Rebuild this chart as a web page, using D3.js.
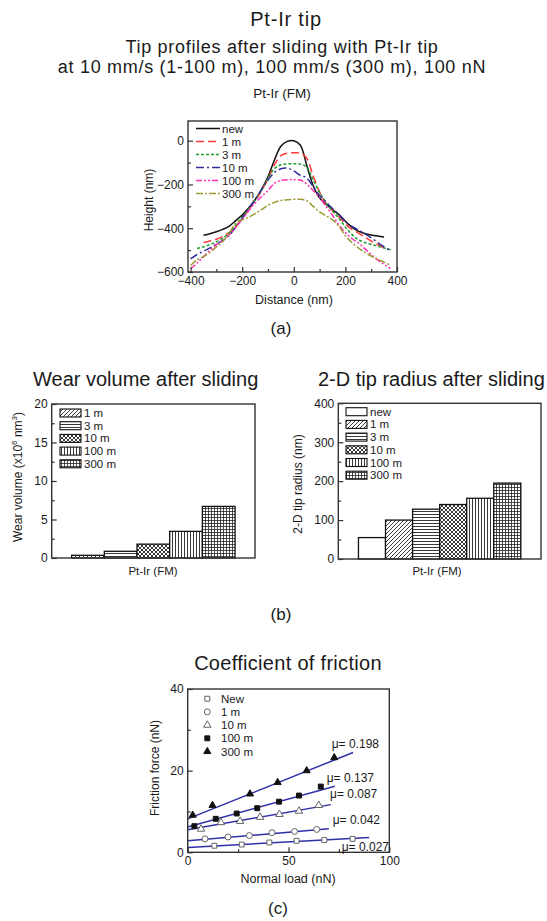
<!DOCTYPE html>
<html><head><meta charset="utf-8">
<script src="https://cdn.jsdelivr.net/npm/d3@7"></script>
<style>
html,body{margin:0;padding:0;background:#fff;}
svg{display:block;font-family:"Liberation Sans",Arial,sans-serif;}
</style></head>
<body><svg id="c" width="547" height="921"></svg>
<script>
// ---------- DATA ----------
// (a) tip profiles
const profileDistance = [-400,-375,-350,-325,-300,-275,-250,-225,-200,-175,-150,-125,-100,-75,-50,-25,0,25,50,75,100,125,150,175,200,225,250,275,300,325,350,375,400];
const profileNames = ["new","1 m","3 m","10 m","100 m","300 m"];
const hNew  = [null,null,-432,-425,-416,-405,-390,-365,-340,-308,-270,-222,-165,-88,-25,-3,0,-20,-112,-205,-262,-290,-315,-338,-368,-395,-413,-424,-431,-436,-440,null,null];
const h1m   = [null,null,-465,-458,-450,-438,-420,-395,-355,-315,-275,-228,-175,-110,-68,-57,-55,-57,-80,-160,-235,-285,-320,-347,-380,-405,-422,-440,-459,-475,-490,null,null];
const h3m   = [null,-493,-485,-475,-462,-445,-420,-385,-350,-312,-270,-225,-172,-128,-110,-106,-105,-107,-120,-180,-235,-285,-320,-355,-395,-428,-452,-465,-474,-482,-490,-498,null];
const h10m  = [-540,-520,-505,-490,-472,-455,-432,-395,-355,-312,-270,-225,-180,-145,-128,-125,-138,-158,-170,-210,-250,-280,-310,-338,-370,-392,-407,-425,-444,-465,-485,-505,null];
const h100m = [-585,-560,-530,-500,-475,-455,-430,-395,-360,-320,-285,-255,-228,-195,-182,-178,-178,-180,-198,-228,-258,-300,-340,-385,-420,-447,-467,-493,-520,-545,-565,-585,null];
const h300m = [-570,-545,-530,-510,-485,-460,-422,-378,-362,-350,-333,-315,-295,-282,-273,-270,-268,-268,-275,-300,-325,-343,-362,-392,-435,-465,-490,-510,-527,-542,-555,-570,null];
const profileHeights = [hNew,h1m,h3m,h10m,h100m,h300m];
const profileXTicks = [-400,-200,0,200,400];
const profileYTicks = [-600,-400,-200,0];

// (b) wear volume and tip radius
const wearCats = ["1 m","3 m","10 m","100 m","300 m"];
const wearValues = [0.35,0.87,1.8,3.46,6.7];
const wearYTicks = [0,5,10,15,20];
const radiusCats = ["new","1 m","3 m","10 m","100 m","300 m"];
const radiusValues = [55,100,128,140,156,195];
const radiusYTicks = [0,100,200,300,400];

// (c) friction
const fricNames = ["New","1 m","10 m","100 m","300 m"];
const loadNew  = [13.2,26.8,40.5,54,67.8,81.8];
const fricNew  = [1.6,1.9,2.4,2.8,3.0,3.3];
const load1m   = [8.6,20,30.6,41.8,53,64];
const fric1m   = [3.3,3.75,4.1,4.8,5.1,5.6];
const load10m  = [6.6,16.5,26,35.9,45.5,55.2,65];
const fric10m  = [5.7,7.3,7.6,8.6,9.3,10.1,11.5];
const load100m = [3.3,13.9,24.3,34.5,45.3,55.2,66];
const fric100m = [6.4,8.2,9.5,10.8,12.4,13.9,16.1];
const load300m = [2.5,12.3,30.9,44.6,59,72.7];
const fric300m = [9.1,11.5,14.3,17.1,20,23.2];
const fricLoads = [loadNew,load1m,load10m,load100m,load300m];
const fricForces = [fricNew,fric1m,fric10m,fric100m,fric300m];
const muValues = [0.027,0.042,0.087,0.137,0.198];
const fitIntercepts = [1.2,2.8,5.5,6.2,8.2];
const fitEnds = [90,70,71,73,82];
const muLabels = ["\u03bc= 0.027","\u03bc= 0.042","\u03bc= 0.087","\u03bc= 0.137","\u03bc= 0.198"];
const fricXTicks = [0,50,100];
const fricYTicks = [0,20,40];

// ---------- DRAW ----------
const svg = d3.select("#c");
const FONT = "#1a1a1a";
function txt(x,y,s,size,anchor,rot,ls){
  const t = svg.append("text").attr("x",x).attr("y",y).attr("font-size",size)
    .attr("fill",FONT).attr("text-anchor",anchor||"middle").text(s);
  if(ls) t.attr("letter-spacing",ls);
  if(rot) t.attr("transform",`rotate(-90,${x},${y})`);
  return t;
}
function frame(x,y){
  svg.append("rect").attr("x",x.range()[0]).attr("y",y.range()[1])
    .attr("width",x.range()[1]-x.range()[0]).attr("height",y.range()[0]-y.range()[1])
    .attr("fill","none").attr("stroke","#333").attr("stroke-width",1.4);
}
function yAxis(x,y,major,minor,fs){
  const g = svg.append("g").attr("transform",`translate(${x.range()[0]},0)`)
    .call(d3.axisLeft(y).tickValues(major).tickSizeInner(-5).tickSizeOuter(0).tickPadding(4));
  g.select(".domain").remove();
  g.selectAll("text").attr("font-size",fs).attr("fill",FONT).attr("font-family",null);
  g.selectAll("line").attr("stroke","#333").attr("stroke-width",1.2);
  if(minor){
    const m = svg.append("g").attr("transform",`translate(${x.range()[0]},0)`)
      .call(d3.axisLeft(y).tickValues(minor).tickSizeInner(-3).tickSizeOuter(0).tickFormat(""));
    m.select(".domain").remove();
    m.selectAll("line").attr("stroke","#333").attr("stroke-width",1.2);
  }
}
function xAxis(x,y,major,minor,fs){
  const g = svg.append("g").attr("transform",`translate(0,${y.range()[0]})`)
    .call(d3.axisBottom(x).tickValues(major).tickSizeInner(-5).tickSizeOuter(0).tickPadding(4));
  g.select(".domain").remove();
  g.selectAll("text").attr("font-size",fs).attr("fill",FONT).attr("font-family",null);
  g.selectAll("line").attr("stroke","#333").attr("stroke-width",1.2);
  if(minor){
    const m = svg.append("g").attr("transform",`translate(0,${y.range()[0]})`)
      .call(d3.axisBottom(x).tickValues(minor).tickSizeInner(-3).tickSizeOuter(0).tickFormat(""));
    m.select(".domain").remove();
    m.selectAll("line").attr("stroke","#333").attr("stroke-width",1.2);
  }
}

// Titles
txt(286,25.5,"Pt-Ir tip",20,"middle",false,0.8);
txt(282,52.5,"Tip profiles after sliding with Pt-Ir tip",18,"middle",false,0.7);
txt(272,72.5,"at 10 mm/s (1-100 m), 100 mm/s (300 m), 100 nN",18,"middle",false,0.7);
txt(282,98,"Pt-Ir (FM)",13.5);

// ---- (a) ----
const xa = d3.scaleLinear().domain([-410,400]).range([188,397]);
const ya = d3.scaleLinear().domain([-600,90]).range([272,121]);
const profColors = ["#111","#ff3a3a","#1f9c2a","#2e2e9e","#ff2fb4","#9d9a34"];
const profDash = [null,"8,4","3,2","8,3,2,3","6,2,2,2,2,2","7,2,2,2"];
svg.append("defs").append("clipPath").attr("id","clipA").append("rect")
  .attr("x",188).attr("y",121).attr("width",209).attr("height",151);
const lineA = d3.line().defined(d=>d[1]!==null).x(d=>xa(d[0])).y(d=>ya(d[1])).curve(d3.curveCatmullRom);
profileHeights.forEach((hs,i)=>{
  svg.append("path").attr("clip-path","url(#clipA)")
    .attr("d",lineA(profileDistance.map((d,j)=>[d,hs[j]])))
    .attr("fill","none").attr("stroke",profColors[i]).attr("stroke-width",1.5)
    .attr("stroke-dasharray",profDash[i]);
});
frame(xa,ya);
yAxis(xa,ya,profileYTicks,[-500,-300,-100],12);
xAxis(xa,ya,profileXTicks,[-300,-100,100,300],12);
// legend (a)
profileNames.forEach((n,i)=>{
  const yy = 128.5 + i*13;
  svg.append("line").attr("x1",196).attr("x2",220).attr("y1",yy).attr("y2",yy)
    .attr("stroke",profColors[i]).attr("stroke-width",1.5).attr("stroke-dasharray",profDash[i]);
  txt(222,yy+4,n,11.5,"start");
});
txt(153,200,"Height (nm)",12,"middle",true);
txt(294,304,"Distance (nm)",12.5);
txt(281,334,"(a)",17);

// ---- patterns ----
const defs = svg.select("defs");
function pat(id,w,h,draw){
  const p = defs.append("pattern").attr("id",id).attr("patternUnits","userSpaceOnUse").attr("width",w).attr("height",h);
  p.append("rect").attr("width",w).attr("height",h).attr("fill","#fff");
  draw(p);
}
pat("pDiag",4,4,p=>p.append("path").attr("d","M-1,1 L1,-1 M0,4 L4,0 M3,5 L5,3").attr("stroke","#222").attr("stroke-width",0.9));
pat("pHoriz",3,3,p=>p.append("path").attr("d","M0,1.5 L3,1.5").attr("stroke","#222").attr("stroke-width",0.9));
pat("pCross",4,4,p=>p.append("path").attr("d","M-1,1 L1,-1 M0,4 L4,0 M3,5 L5,3 M-1,3 L1,5 M0,0 L4,4 M3,-1 L5,1").attr("stroke","#222").attr("stroke-width",0.9));
pat("pVert",3,3,p=>p.append("path").attr("d","M1.5,0 L1.5,3").attr("stroke","#222").attr("stroke-width",0.9));
pat("pGrid",3,3,p=>p.append("path").attr("d","M1.5,0 L1.5,3 M0,1.5 L3,1.5").attr("stroke","#222").attr("stroke-width",0.8));
const fillMap = {"new":"#fff","1 m":"url(#pDiag)","3 m":"url(#pHoriz)","10 m":"url(#pCross)","100 m":"url(#pVert)","300 m":"url(#pGrid)"};

function barChart(cats,vals,x0,x1,yTop,yBot,dom,major,minor,pad,legX,legY,title,titleX,xlabX){
  const x = d3.scaleBand().domain(cats).range([x0,x1]).paddingInner(0).paddingOuter(pad);
  const y = d3.scaleLinear().domain(dom).range([yBot,yTop]);
  cats.forEach((c,i)=>{
    svg.append("rect").attr("x",x(c)).attr("y",y(vals[i])).attr("width",x.bandwidth())
      .attr("height",y(0)-y(vals[i])).attr("fill",fillMap[c]).attr("stroke","#111").attr("stroke-width",1.3);
  });
  const xl = d3.scaleLinear().range([x0,x1]);
  frame(xl,y);
  yAxis(xl,y,major,minor,12);
  cats.forEach((c,i)=>{
    const yy = legY + i*12.7;
    svg.append("rect").attr("x",legX).attr("y",yy-4).attr("width",21).attr("height",8)
      .attr("fill",fillMap[c]).attr("stroke","#111").attr("stroke-width",1.1);
    txt(legX+24,yy+4,c,11.5,"start");
  });
  txt(titleX,386,title,20,"start");
  txt(xlabX,575,"Pt-Ir (FM)",11.5);
}
barChart(wearCats,wearValues,51.7,255,404,558,[0,20],wearYTicks,[2.5,7.5,12.5,17.5],0.61,60,413,
  "Wear volume after sliding",33,153);
barChart(radiusCats,radiusValues,338.3,541,403.3,559,[0,400],radiusYTicks,[50,150,250,350],0.745,346,411.7,
  "2-D tip radius after sliding",318,437);
// y labels (b)
const yl = svg.append("text").attr("x",22).attr("y",477).attr("font-size",12).attr("fill",FONT)
  .attr("text-anchor","middle").attr("transform","rotate(-90,22,477)");
yl.append("tspan").text("Wear volume (x10");
yl.append("tspan").attr("dy",-5).attr("font-size",8).text("6");
yl.append("tspan").attr("dy",5).text(" nm");
yl.append("tspan").attr("dy",-5).attr("font-size",8).text("3");
yl.append("tspan").attr("dy",5).text(")");
txt(302,484,"2-D tip radius (nm)",12,"middle",true);
txt(281,620,"(b)",17);

// ---- (c) ----
txt(288,670,"Coefficient of friction",20,"middle",false,0.3);
const xc = d3.scaleLinear().domain([0,100]).range([187.7,389.3]);
const yc = d3.scaleLinear().domain([0,40]).range([852.3,689]);
const LINEC = "#3030a8";
fricNames.forEach((n,i)=>{
  svg.append("line").attr("x1",xc(0)).attr("y1",yc(fitIntercepts[i]))
    .attr("x2",xc(fitEnds[i])).attr("y2",yc(fitIntercepts[i]+muValues[i]*fitEnds[i]))
    .attr("stroke",LINEC).attr("stroke-width",1.5);
});
const symTypes = [d3.symbolSquare,d3.symbolCircle,d3.symbolTriangle,d3.symbolSquare,d3.symbolTriangle];
const symSize = [24,28,24,24,22];
const symFilled = [false,false,false,true,true];
function sym(i,cx,cy){
  svg.append("path").attr("d",d3.symbol().type(symTypes[i]).size(symSize[i])())
    .attr("transform",`translate(${cx},${cy})`)
    .attr("fill",symFilled[i]?"#111":"#fff").attr("stroke",symFilled[i]?"#111":"#666").attr("stroke-width",1);
}
fricNames.forEach((n,i)=>{
  fricLoads[i].forEach((l,j)=>sym(i,xc(l),yc(fricForces[i][j])));
});
frame(xc,yc);
yAxis(xc,yc,fricYTicks,[10,30],12);
xAxis(xc,yc,fricXTicks,[25,75],12);
fricNames.forEach((n,i)=>{
  const yy = 698.7 + i*13.2;
  sym(i,207.3,yy);
  txt(221,yy+4,n,11.5,"start");
});
const muPos = [[341.7,851],[332.7,824.3],[330,798.3],[326.7,782.3],[331.7,747.7]];
muLabels.forEach((m,i)=>txt(muPos[i][0],muPos[i][1],m,12,"start"));
txt(159,768,"Friction force (nN)",12,"middle",true);
txt(288,883,"Normal load (nN)",12.5);
txt(278,914,"(c)",17);
</script></body></html>
